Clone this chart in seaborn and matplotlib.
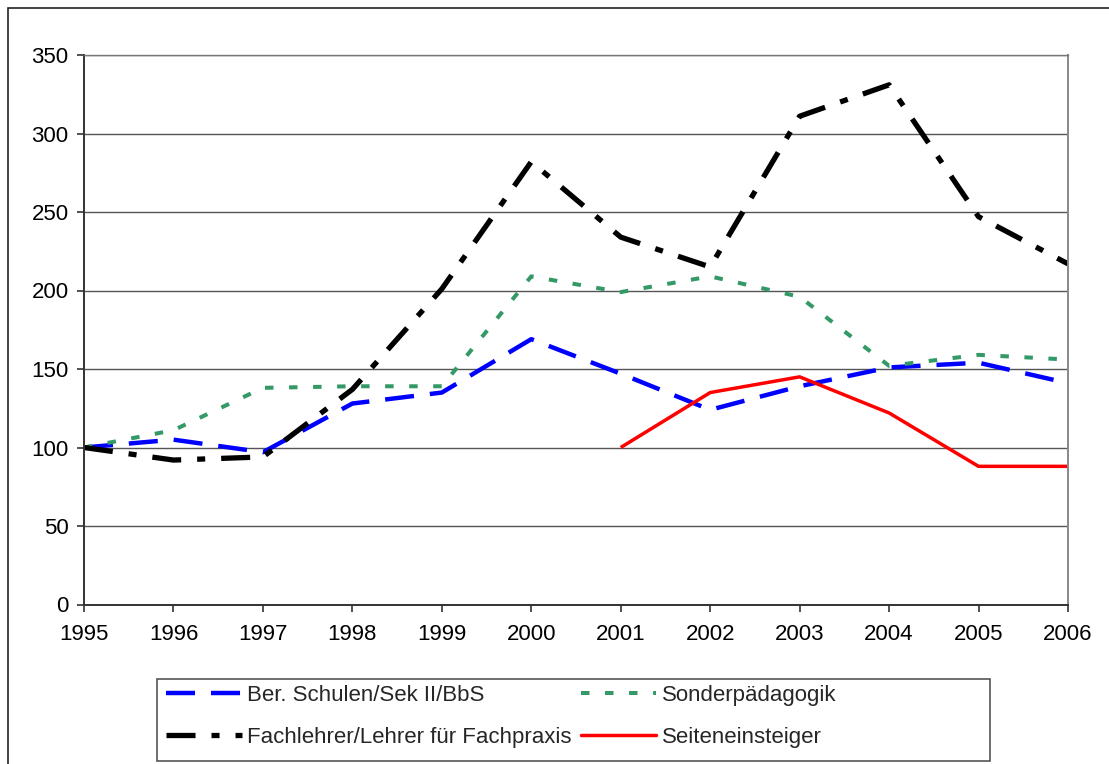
import numpy as np
import matplotlib
matplotlib.use("Agg")
import matplotlib.pyplot as plt
from matplotlib.patches import Rectangle
from matplotlib.lines import Line2D
import seaborn as sns

# Werte (Index 1995 = 100)
years = list(range(1995, 2007))
ber_schulen = [100, 105, 97, 128, 135, 169, 147, 124, 139, 151, 154, 141]
sonderpaed = [100, 111, 138, 139, 139, 209, 199, 209, 196, 152, 159, 156]
fachlehrer = [100, 92, 94, 137, 201, 282, 234, 215, 311, 331, 247, 217]
seiteneinsteiger = [np.nan, np.nan, np.nan, np.nan, np.nan, np.nan, 100, 135, 145, 122, 88, 88]

labels = ["Ber. Schulen/Sek II/BbS", "Sonderpädagogik",
          "Fachlehrer/Lehrer für Fachpraxis", "Seiteneinsteiger"]
y_ticks = [0, 50, 100, 150, 200, 250, 300, 350]

sns.set_theme(style="white")
plt.rcParams["font.family"] = ["Liberation Sans", "DejaVu Sans"]
plt.rcParams["lines.scale_dashes"] = False

W, H = 1109, 764
fig = plt.figure(figsize=(W / 100, H / 100), dpi=100)
ax = fig.add_axes([84 / W, 1 - 604.5 / H, (1068 - 84) / W, (604.5 - 55) / H])

# Linien: (Werte, Farbe, Breite in pt, Strichmuster in pt)
series = [
    (ber_schulen, "#0000FF", 3.2, (20.9, 11.5)),
    (sonderpaed, "#339966", 2.9, (6.1, 11.2)),
    (fachlehrer, "#000000", 3.8, (20.9, 11.5, 5.8, 11.5)),
    (seiteneinsteiger, "#FF0000", 2.5, None),
]
handles = []
for vals, col, lw, dash in series:
    sns.lineplot(x=years, y=vals, ax=ax, color=col, linewidth=lw, errorbar=None)
    line = ax.lines[-1]
    if dash is not None:
        line.set_dashes(dash)
    line.set_solid_capstyle("butt")
    h = Line2D([], [], color=col, linewidth=lw)
    if dash is not None:
        h.set_dashes(dash)
    handles.append(h)

ax.set_xlim(1995, 2006)
ax.set_ylim(0, 350)
ax.set_xticks(years)
ax.set_yticks(y_ticks)
ax.set_xlabel("")
ax.set_ylabel("")
ax.yaxis.grid(True, color="#555555", linewidth=1.0)
ax.set_axisbelow(True)
for side in ["left", "bottom"]:
    ax.spines[side].set_color("#333333")
    ax.spines[side].set_linewidth(1.4)
ax.spines["top"].set_color("#777777")
ax.spines["top"].set_linewidth(1.0)
ax.spines["right"].set_color("#888888")
ax.spines["right"].set_linewidth(1.4)
ax.tick_params(axis="both", direction="out", length=5, width=1.2, color="#333333",
               labelsize=16, labelcolor="black", bottom=True, left=True)
ax.tick_params(axis="y", pad=6)
ax.tick_params(axis="x", pad=9)

# äußerer Rahmen und Legendenrahmen
fig.patches.append(Rectangle((7.5 / W, -0.1), 1.2, 1 - 8.5 / H + 0.1, transform=fig.transFigure,
                             fill=False, edgecolor="#222222", linewidth=1.2))
fig.patches.append(Rectangle((157 / W, 1 - 761 / H), (990 - 157) / W, (761 - 679) / H,
                             transform=fig.transFigure, fill=False,
                             edgecolor="#555555", linewidth=1.2))

order = [0, 2, 1, 3]
fig.legend([handles[i] for i in order], [labels[i] for i in order], ncol=2,
           loc="center left", bbox_to_anchor=(166 / W, 1 - 716.5 / H),
           frameon=False, fontsize=16, handlelength=3.4, handletextpad=0.25,
           columnspacing=0.4, labelspacing=0.95, borderpad=0, borderaxespad=0)

fig.savefig("out.png", dpi=100)
